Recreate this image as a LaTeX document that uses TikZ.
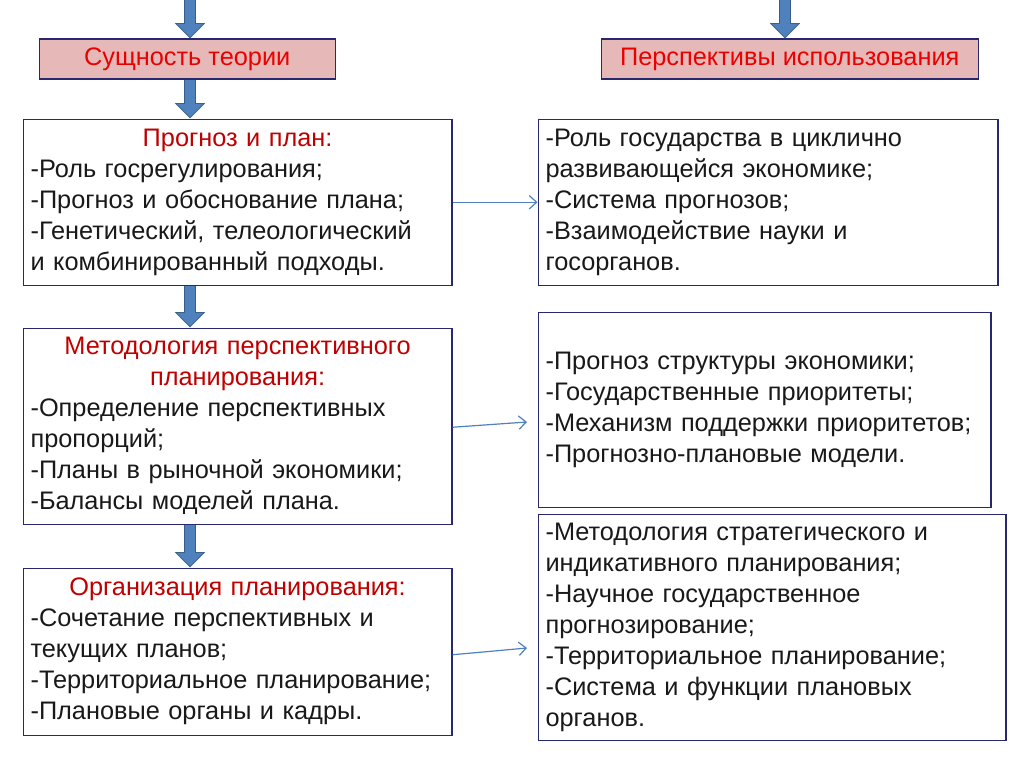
\documentclass[tikz,border=0pt]{standalone}
\usepackage{fontspec}
\setmainfont{Liberation Sans}
\usetikzlibrary{arrows.meta,calc}
\definecolor{boxline}{RGB}{40,40,110}
\definecolor{hdred}{RGB}{192,0,0}
\definecolor{ttred}{RGB}{235,0,0}
\definecolor{ttfill}{RGB}{230,185,184}
\definecolor{arrblue}{RGB}{79,129,189}
\definecolor{arrdark}{RGB}{56,93,138}
\definecolor{txt}{RGB}{25,25,25}
\newcommand{\hdl}[1]{\makebox[\hsize][c]{\textcolor{hdred}{#1}}}
\begin{document}
\begin{tikzpicture}[x=0.75pt,y=-0.75pt,
  every node/.style={font=\fontsize{19pt}{23.25pt}\selectfont, text=txt},
  titlebox/.style={draw=boxline, line width=1.1pt, fill=ttfill, text=ttred, inner sep=0pt, anchor=north west},
  textbox/.style={draw=boxline, line width=1.1pt, fill=white, anchor=north west, align=left, inner xsep=5.5pt, inner ysep=0pt},
  blockarrowout/.style={draw=arrdark, line width=9.5pt, -{Triangle[length=11.5pt,width=22pt]}},
  blockarrow/.style={draw=arrblue, line width=7.5pt, shorten >=1pt, -{Triangle[length=10pt,width=19.5pt]}},
  thinarrow/.style={draw=arrblue, line width=0.9pt, -{Straight Barb[length=5.5pt,width=10pt]}}
]
\useasboundingbox[fill=white] (0,0) rectangle (1024,767);
% titles
\node[titlebox, minimum width=296*0.75pt, minimum height=40*0.75pt] (T1) at (38.5,38.5) {Сущность теории};
\node[titlebox, minimum width=377*0.75pt, minimum height=40*0.75pt] (T2) at (600.5,38.5) {Перспективы использования};
% left boxes
\node[textbox, minimum width=425*0.75pt, minimum height=166*0.75pt, text width=414*0.75pt] (L1) at (22.5,118.5) {\hdl{Прогноз и план:}\\-Роль госрегулирования;\\-Прогноз и обоснование плана;\\-Генетический, телеологический\\и комбинированный подходы.};
\node[textbox, minimum width=425*0.75pt, minimum height=196*0.75pt, text width=414*0.75pt] (L2) at (22.5,327.5) {\hdl{Методология перспективного}\\\hdl{планирования:}\\-Определение перспективных\\пропорций;\\-Планы в рыночной экономики;\\-Балансы моделей плана.};
\node[textbox, minimum width=425*0.75pt, minimum height=167*0.75pt, text width=414*0.75pt] (L3) at (22.5,567.5) {\hdl{Организация планирования:}\\-Сочетание перспективных и\\текущих планов;\\-Территориальное планирование;\\-Плановые органы и кадры.};
% right boxes
\node[textbox, minimum width=456*0.75pt, minimum height=166*0.75pt, text width=445*0.75pt] (R1) at (537.5,118.5) {-Роль государства в циклично\\развивающейся экономике;\\-Система прогнозов;\\-Взаимодействие науки и\\госорганов.};
\node[textbox, minimum width=449*0.75pt, minimum height=195*0.75pt, text width=438*0.75pt] (R2) at (537.5,311.5) {-Прогноз структуры экономики;\\-Государственные приоритеты;\\-Механизм поддержки приоритетов;\\-Прогнозно-плановые модели.};
\node[textbox, minimum width=464*0.75pt, minimum height=226*0.75pt, text width=453*0.75pt] (R3) at (537.5,513.5) {-Методология стратегического и\\индикативного планирования;\\-Научное государственное\\прогнозирование;\\-Территориальное планирование;\\-Система и функции плановых\\органов.};
% block arrows
\coordinate (top1) at (190,-5);
\coordinate (top2) at (785,-5);
\foreach \s in {blockarrowout,blockarrow}{
  \draw[\s] (top1) -- (T1.north -| top1);
  \draw[\s] (top2) -- (T2.north -| top2);
  \draw[\s] (T1.south -| top1) -- (L1.north -| top1);
  \draw[\s] (L1.south -| top1) -- (L2.north -| top1);
  \draw[\s] (L2.south -| top1) -- (L3.north -| top1);
}
% thin arrows
\coordinate (a2) at (527,422);
\coordinate (a3) at (527,648);
\draw[thinarrow] (L1.east) -- (R1.west);
\draw[thinarrow] ($(L2.east)+(0,1)$) -- (a2);
\draw[thinarrow] ($(L3.east)+(0,3)$) -- (a3);
\end{tikzpicture}
\end{document}
